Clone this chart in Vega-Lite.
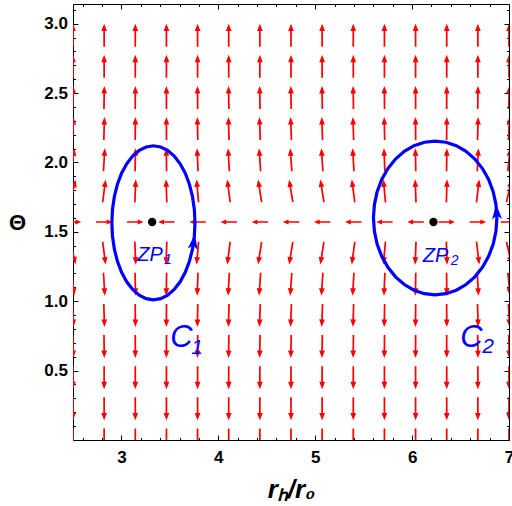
{
"$schema": "https://vega.github.io/schema/vega-lite/v6.json",
"width": 436, "height": 436,
"autosize": {"type": "none"},
"padding": {"left": 73, "top": 4, "right": 3, "bottom": 66},
"config": {"view": {"stroke": null}, "axis": {"grid": false, "labelFont": "Liberation Sans", "labelFontWeight": "bold", "labelFontSize": 17, "labelColor": "#000", "tickColor": "#000", "tickWidth": 1, "domainColor": "#000", "domainWidth": 1, "titleColor": "#000", "zindex": 1, "labelFlush": false, "labelOverlap": false}},
"datasets": {
"arrows": [
{"r":2.5,"t":0,"a":180},{"r":2.8214,"t":0,"a":180},{"r":3.1429,"t":0,"a":180},{"r":3.4643,"t":0,"a":180},{"r":3.7857,"t":0,"a":180},{"r":4.1071,"t":0,"a":180},{"r":4.4286,"t":0,"a":180},{"r":4.75,"t":0,"a":180},{"r":5.0714,"t":0,"a":180},{"r":5.3929,"t":0,"a":180},{"r":5.7143,"t":0,"a":180},{"r":6.0357,"t":0,"a":180},{"r":6.3571,"t":0,"a":180},{"r":6.6786,"t":0,"a":180},{"r":7,"t":0,"a":180},
{"r":2.5,"t":0.2244,"a":180},{"r":2.8214,"t":0.2244,"a":180},{"r":3.1429,"t":0.2244,"a":180},{"r":3.4643,"t":0.2244,"a":180},{"r":3.7857,"t":0.2244,"a":180},{"r":4.1071,"t":0.2244,"a":180},{"r":4.4286,"t":0.2244,"a":180},{"r":4.75,"t":0.2244,"a":180},{"r":5.0714,"t":0.2244,"a":180},{"r":5.3929,"t":0.2244,"a":180},{"r":5.7143,"t":0.2244,"a":180},{"r":6.0357,"t":0.2244,"a":180},{"r":6.3571,"t":0.2244,"a":180},{"r":6.6786,"t":0.2244,"a":180},{"r":7,"t":0.2244,"a":180},
{"r":2.5,"t":0.4488,"a":180},{"r":2.8214,"t":0.4488,"a":180},{"r":3.1429,"t":0.4488,"a":180},{"r":3.4643,"t":0.4488,"a":180},{"r":3.7857,"t":0.4488,"a":180},{"r":4.1071,"t":0.4488,"a":180},{"r":4.4286,"t":0.4488,"a":180},{"r":4.75,"t":0.4488,"a":180},{"r":5.0714,"t":0.4488,"a":180},{"r":5.3929,"t":0.4488,"a":180},{"r":5.7143,"t":0.4488,"a":180},{"r":6.0357,"t":0.4488,"a":180},{"r":6.3571,"t":0.4488,"a":180},{"r":6.6786,"t":0.4488,"a":180},{"r":7,"t":0.4488,"a":180},
{"r":2.5,"t":0.6732,"a":178.4},{"r":2.8214,"t":0.6732,"a":179.1},{"r":3.1429,"t":0.6732,"a":179.7},{"r":3.4643,"t":0.6732,"a":180.2},{"r":3.7857,"t":0.6732,"a":180.6},{"r":4.1071,"t":0.6732,"a":180.9},{"r":4.4286,"t":0.6732,"a":181},{"r":4.75,"t":0.6732,"a":181.1},{"r":5.0714,"t":0.6732,"a":181},{"r":5.3929,"t":0.6732,"a":180.9},{"r":5.7143,"t":0.6732,"a":180.6},{"r":6.0357,"t":0.6732,"a":180.3},{"r":6.3571,"t":0.6732,"a":179.8},{"r":6.6786,"t":0.6732,"a":179.2},{"r":7,"t":0.6732,"a":178.5},
{"r":2.5,"t":0.8976,"a":176.9},{"r":2.8214,"t":0.8976,"a":178.3},{"r":3.1429,"t":0.8976,"a":179.5},{"r":3.4643,"t":0.8976,"a":180.4},{"r":3.7857,"t":0.8976,"a":181.1},{"r":4.1071,"t":0.8976,"a":181.7},{"r":4.4286,"t":0.8976,"a":182},{"r":4.75,"t":0.8976,"a":182.1},{"r":5.0714,"t":0.8976,"a":182},{"r":5.3929,"t":0.8976,"a":181.7},{"r":5.7143,"t":0.8976,"a":181.2},{"r":6.0357,"t":0.8976,"a":180.5},{"r":6.3571,"t":0.8976,"a":179.6},{"r":6.6786,"t":0.8976,"a":178.4},{"r":7,"t":0.8976,"a":177.1},
{"r":2.5,"t":1.122,"a":174.1},{"r":2.8214,"t":1.122,"a":176.7},{"r":3.1429,"t":1.122,"a":179},{"r":3.4643,"t":1.122,"a":180.8},{"r":3.7857,"t":1.122,"a":182.2},{"r":4.1071,"t":1.122,"a":183.2},{"r":4.4286,"t":1.122,"a":183.8},{"r":4.75,"t":1.122,"a":184.1},{"r":5.0714,"t":1.122,"a":183.9},{"r":5.3929,"t":1.122,"a":183.3},{"r":5.7143,"t":1.122,"a":182.3},{"r":6.0357,"t":1.122,"a":181},{"r":6.3571,"t":1.122,"a":179.2},{"r":6.6786,"t":1.122,"a":177},{"r":7,"t":1.122,"a":174.5},
{"r":2.5,"t":1.3464,"a":166.8},{"r":2.8214,"t":1.3464,"a":172.6},{"r":3.1429,"t":1.3464,"a":177.6},{"r":3.4643,"t":1.3464,"a":181.8},{"r":3.7857,"t":1.3464,"a":185},{"r":4.1071,"t":1.3464,"a":187.3},{"r":4.4286,"t":1.3464,"a":188.7},{"r":4.75,"t":1.3464,"a":189.2},{"r":5.0714,"t":1.3464,"a":188.8},{"r":5.3929,"t":1.3464,"a":187.5},{"r":5.7143,"t":1.3464,"a":185.3},{"r":6.0357,"t":1.3464,"a":182.2},{"r":6.3571,"t":1.3464,"a":178.2},{"r":6.6786,"t":1.3464,"a":173.2},{"r":7,"t":1.3464,"a":167.5},
{"r":2.5,"t":1.7952,"a":13.2},{"r":2.8214,"t":1.7952,"a":7.4},{"r":3.1429,"t":1.7952,"a":2.4},{"r":3.4643,"t":1.7952,"a":-1.8},{"r":3.7857,"t":1.7952,"a":-5},{"r":4.1071,"t":1.7952,"a":-7.3},{"r":4.4286,"t":1.7952,"a":-8.7},{"r":4.75,"t":1.7952,"a":-9.2},{"r":5.0714,"t":1.7952,"a":-8.8},{"r":5.3929,"t":1.7952,"a":-7.5},{"r":5.7143,"t":1.7952,"a":-5.3},{"r":6.0357,"t":1.7952,"a":-2.2},{"r":6.3571,"t":1.7952,"a":1.8},{"r":6.6786,"t":1.7952,"a":6.8},{"r":7,"t":1.7952,"a":12.5},
{"r":2.5,"t":2.0196,"a":5.9},{"r":2.8214,"t":2.0196,"a":3.3},{"r":3.1429,"t":2.0196,"a":1},{"r":3.4643,"t":2.0196,"a":-0.8},{"r":3.7857,"t":2.0196,"a":-2.2},{"r":4.1071,"t":2.0196,"a":-3.2},{"r":4.4286,"t":2.0196,"a":-3.8},{"r":4.75,"t":2.0196,"a":-4.1},{"r":5.0714,"t":2.0196,"a":-3.9},{"r":5.3929,"t":2.0196,"a":-3.3},{"r":5.7143,"t":2.0196,"a":-2.3},{"r":6.0357,"t":2.0196,"a":-1},{"r":6.3571,"t":2.0196,"a":0.8},{"r":6.6786,"t":2.0196,"a":3},{"r":7,"t":2.0196,"a":5.5},
{"r":2.5,"t":2.244,"a":3.1},{"r":2.8214,"t":2.244,"a":1.7},{"r":3.1429,"t":2.244,"a":0.5},{"r":3.4643,"t":2.244,"a":-0.4},{"r":3.7857,"t":2.244,"a":-1.1},{"r":4.1071,"t":2.244,"a":-1.7},{"r":4.4286,"t":2.244,"a":-2},{"r":4.75,"t":2.244,"a":-2.1},{"r":5.0714,"t":2.244,"a":-2},{"r":5.3929,"t":2.244,"a":-1.7},{"r":5.7143,"t":2.244,"a":-1.2},{"r":6.0357,"t":2.244,"a":-0.5},{"r":6.3571,"t":2.244,"a":0.4},{"r":6.6786,"t":2.244,"a":1.6},{"r":7,"t":2.244,"a":2.9},
{"r":2.5,"t":2.4684,"a":1.6},{"r":2.8214,"t":2.4684,"a":0.9},{"r":3.1429,"t":2.4684,"a":0.3},{"r":3.4643,"t":2.4684,"a":-0.2},{"r":3.7857,"t":2.4684,"a":-0.6},{"r":4.1071,"t":2.4684,"a":-0.9},{"r":4.4286,"t":2.4684,"a":-1},{"r":4.75,"t":2.4684,"a":-1.1},{"r":5.0714,"t":2.4684,"a":-1},{"r":5.3929,"t":2.4684,"a":-0.9},{"r":5.7143,"t":2.4684,"a":-0.6},{"r":6.0357,"t":2.4684,"a":-0.3},{"r":6.3571,"t":2.4684,"a":0.2},{"r":6.6786,"t":2.4684,"a":0.8},{"r":7,"t":2.4684,"a":1.5},
{"r":2.5,"t":2.6928,"a":0},{"r":2.8214,"t":2.6928,"a":0},{"r":3.1429,"t":2.6928,"a":0},{"r":3.4643,"t":2.6928,"a":0},{"r":3.7857,"t":2.6928,"a":0},{"r":4.1071,"t":2.6928,"a":0},{"r":4.4286,"t":2.6928,"a":0},{"r":4.75,"t":2.6928,"a":0},{"r":5.0714,"t":2.6928,"a":0},{"r":5.3929,"t":2.6928,"a":0},{"r":5.7143,"t":2.6928,"a":0},{"r":6.0357,"t":2.6928,"a":0},{"r":6.3571,"t":2.6928,"a":0},{"r":6.6786,"t":2.6928,"a":0},{"r":7,"t":2.6928,"a":0},
{"r":2.5,"t":2.9172,"a":0},{"r":2.8214,"t":2.9172,"a":0},{"r":3.1429,"t":2.9172,"a":0},{"r":3.4643,"t":2.9172,"a":0},{"r":3.7857,"t":2.9172,"a":0},{"r":4.1071,"t":2.9172,"a":0},{"r":4.4286,"t":2.9172,"a":0},{"r":4.75,"t":2.9172,"a":0},{"r":5.0714,"t":2.9172,"a":0},{"r":5.3929,"t":2.9172,"a":0},{"r":5.7143,"t":2.9172,"a":0},{"r":6.0357,"t":2.9172,"a":0},{"r":6.3571,"t":2.9172,"a":0},{"r":6.6786,"t":2.9172,"a":0},{"r":7,"t":2.9172,"a":0}
],
"hrow": [
{"r":2.5,"t":1.5708,"a":90},{"r":2.8214,"t":1.5708,"a":90},{"r":3.1429,"t":1.5708,"a":90},{"r":3.4643,"t":1.5708,"a":270},{"r":3.7857,"t":1.5708,"a":270},{"r":4.1071,"t":1.5708,"a":270},{"r":4.4286,"t":1.5708,"a":270},{"r":4.75,"t":1.5708,"a":270},{"r":5.0714,"t":1.5708,"a":270},{"r":5.3929,"t":1.5708,"a":270},{"r":5.7143,"t":1.5708,"a":270},{"r":6.0357,"t":1.5708,"a":270},{"r":6.3571,"t":1.5708,"a":90},{"r":6.6786,"t":1.5708,"a":90},{"r":7,"t":1.5708,"a":90}
],
"ellipses": [
{"c":"C1","i":0,"r":3.759,"t":1.565},{"c":"C1","i":1,"r":3.7525,"t":1.6613},{"c":"C1","i":2,"r":3.7331,"t":1.7548},{"c":"C1","i":3,"r":3.7015,"t":1.8425},{"c":"C1","i":4,"r":3.6586,"t":1.9218},{"c":"C1","i":5,"r":3.6058,"t":1.9901},{"c":"C1","i":6,"r":3.5445,"t":2.0456},{"c":"C1","i":7,"r":3.4767,"t":2.0865},{"c":"C1","i":8,"r":3.4045,"t":2.1116},{"c":"C1","i":9,"r":3.33,"t":2.12},{"c":"C1","i":10,"r":3.2555,"t":2.1116},{"c":"C1","i":11,"r":3.1833,"t":2.0865},{"c":"C1","i":12,"r":3.1155,"t":2.0456},{"c":"C1","i":13,"r":3.0542,"t":1.9901},{"c":"C1","i":14,"r":3.0014,"t":1.9218},{"c":"C1","i":15,"r":2.9585,"t":1.8425},{"c":"C1","i":16,"r":2.9269,"t":1.7548},{"c":"C1","i":17,"r":2.9075,"t":1.6613},{"c":"C1","i":18,"r":2.901,"t":1.565},{"c":"C1","i":19,"r":2.9075,"t":1.4687},{"c":"C1","i":20,"r":2.9269,"t":1.3752},{"c":"C1","i":21,"r":2.9585,"t":1.2875},{"c":"C1","i":22,"r":3.0014,"t":1.2082},{"c":"C1","i":23,"r":3.0542,"t":1.1399},{"c":"C1","i":24,"r":3.1155,"t":1.0844},{"c":"C1","i":25,"r":3.1833,"t":1.0435},{"c":"C1","i":26,"r":3.2555,"t":1.0184},{"c":"C1","i":27,"r":3.33,"t":1.01},{"c":"C1","i":28,"r":3.4045,"t":1.0184},{"c":"C1","i":29,"r":3.4767,"t":1.0435},{"c":"C1","i":30,"r":3.5445,"t":1.0844},{"c":"C1","i":31,"r":3.6058,"t":1.1399},{"c":"C1","i":32,"r":3.6586,"t":1.2082},{"c":"C1","i":33,"r":3.7015,"t":1.2875},{"c":"C1","i":34,"r":3.7331,"t":1.3752},{"c":"C1","i":35,"r":3.7525,"t":1.4687},{"c":"C1","i":36,"r":3.759,"t":1.565},
{"c":"C2","i":0,"r":6.875,"t":1.6},{"c":"C2","i":1,"r":6.8653,"t":1.6962},{"c":"C2","i":2,"r":6.8366,"t":1.7895},{"c":"C2","i":3,"r":6.7896,"t":1.877},{"c":"C2","i":4,"r":6.7259,"t":1.9561},{"c":"C2","i":5,"r":6.6475,"t":2.0244},{"c":"C2","i":6,"r":6.5565,"t":2.0798},{"c":"C2","i":7,"r":6.4559,"t":2.1206},{"c":"C2","i":8,"r":6.3486,"t":2.1456},{"c":"C2","i":9,"r":6.238,"t":2.154},{"c":"C2","i":10,"r":6.1274,"t":2.1456},{"c":"C2","i":11,"r":6.0201,"t":2.1206},{"c":"C2","i":12,"r":5.9195,"t":2.0798},{"c":"C2","i":13,"r":5.8285,"t":2.0244},{"c":"C2","i":14,"r":5.7501,"t":1.9561},{"c":"C2","i":15,"r":5.6864,"t":1.877},{"c":"C2","i":16,"r":5.6394,"t":1.7895},{"c":"C2","i":17,"r":5.6107,"t":1.6962},{"c":"C2","i":18,"r":5.601,"t":1.6},{"c":"C2","i":19,"r":5.6107,"t":1.5038},{"c":"C2","i":20,"r":5.6394,"t":1.4105},{"c":"C2","i":21,"r":5.6864,"t":1.323},{"c":"C2","i":22,"r":5.7501,"t":1.2439},{"c":"C2","i":23,"r":5.8285,"t":1.1756},{"c":"C2","i":24,"r":5.9195,"t":1.1202},{"c":"C2","i":25,"r":6.0201,"t":1.0794},{"c":"C2","i":26,"r":6.1274,"t":1.0544},{"c":"C2","i":27,"r":6.238,"t":1.046},{"c":"C2","i":28,"r":6.3486,"t":1.0544},{"c":"C2","i":29,"r":6.4559,"t":1.0794},{"c":"C2","i":30,"r":6.5565,"t":1.1202},{"c":"C2","i":31,"r":6.6475,"t":1.1756},{"c":"C2","i":32,"r":6.7259,"t":1.2439},{"c":"C2","i":33,"r":6.7896,"t":1.323},{"c":"C2","i":34,"r":6.8366,"t":1.4105},{"c":"C2","i":35,"r":6.8653,"t":1.5038},{"c":"C2","i":36,"r":6.875,"t":1.6}
],
"heads": [{"c":"C1","r":3.745,"t":1.423,"a":8},{"c":"C2","r":6.873,"t":1.639,"a":-3}],
"zeros": [{"name":"ZP1","r":3.317,"t":1.5708},{"name":"ZP2","r":6.22,"t":1.5708}],
"zpText": [{"s":"ZP","r":3.163,"t":1.288},{"s":"ZP","r":6.11,"t":1.281}],
"zpSub": [{"s":"1","r":3.44,"t":1.268},{"s":"2","r":6.40,"t":1.262}],
"cText": [{"s":"C","r":3.503,"t":0.669},{"s":"C","r":6.496,"t":0.669}],
"cSub": [{"s":"1","r":3.72,"t":0.621},{"s":"2","r":6.723,"t":0.625}]
},
"resolve": {"axis": {"x": "independent", "y": "independent"}},
"layer": [
{"data": {"name": "arrows"},
 "mark": {"type": "point", "shape": "M-0.075,1L0.075,1L0.075,-0.35L0.25,-0.35L0,-1L-0.25,-0.35L-0.075,-0.35Z", "filled": true, "color": "#ff0000", "opacity": 1, "size": 529, "strokeWidth": 0, "clip": true},
 "encoding": {
  "x": {"field": "r", "type": "quantitative", "scale": {"domain": [2.5, 7], "nice": false, "zero": false},
        "axis": {"orient": "bottom", "values": [3,4,5,6,7], "format": "d", "tickSize": -5, "labelPadding": 14, "domain": true, "title": "rₕ/r₀", "titleFont": "Liberation Sans", "titleFontSize": 26, "titleFontStyle": "italic", "titleFontWeight": "bold", "titleBaseline": "alphabetic", "titleY": 57}},
  "y": {"field": "t", "type": "quantitative", "scale": {"domain": [0, 3.14159], "nice": false, "zero": false},
        "axis": {"orient": "left", "values": [0.5,1,1.5,2,2.5,3], "format": ".1f", "tickSize": -5, "labelPadding": 10.5, "domain": true, "title": "Θ", "titleAngle": 0, "titleX": -56, "titleY": 218, "titleAlign": "center", "titleBaseline": "middle", "titleFont": "Liberation Sans", "titleFontSize": 22, "titleFontWeight": "bold"}},
  "angle": {"field": "a", "type": "quantitative", "scale": null}
 }},
{"data": {"name": "hrow"},
 "mark": {"type": "point", "shape": "M-0.09,1L0.09,1L0.09,-0.3L0.3,-0.3L0,-1L-0.3,-0.3L-0.09,-0.3Z", "filled": true, "color": "#ff0000", "opacity": 1, "size": 270, "strokeWidth": 0, "clip": true},
 "encoding": {
  "x": {"field": "r", "type": "quantitative", "scale": {"domain": [2.5, 7], "nice": false, "zero": false},
        "axis": {"orient": "bottom", "values": [2.6,2.8,3.2,3.4,3.6,3.8,4.2,4.4,4.6,4.8,5.2,5.4,5.6,5.8,6.2,6.4,6.6,6.8], "tickSize": -2.5, "labels": false, "domain": false, "title": null}},
  "y": {"field": "t", "type": "quantitative", "scale": {"domain": [0, 3.14159], "nice": false, "zero": false},
        "axis": {"orient": "left", "values": [0.1,0.2,0.3,0.4,0.6,0.7,0.8,0.9,1.1,1.2,1.3,1.4,1.6,1.7,1.8,1.9,2.1,2.2,2.3,2.4,2.6,2.7,2.8,2.9,3.1], "tickSize": -2.5, "labels": false, "domain": false, "title": null}},
  "angle": {"field": "a", "type": "quantitative", "scale": null}
 }},
{"data": {"name": "ellipses"},
 "mark": {"type": "line", "color": "#0000ff", "strokeWidth": 3.2, "clip": true},
 "encoding": {
  "x": {"field": "r", "type": "quantitative", "scale": {"domain": [2.5, 7], "nice": false, "zero": false},
        "axis": {"orient": "top", "values": [3,4,5,6,7], "tickSize": -5, "labels": false, "domain": true, "title": null}},
  "y": {"field": "t", "type": "quantitative", "scale": {"domain": [0, 3.14159], "nice": false, "zero": false},
        "axis": {"orient": "right", "values": [0.5,1,1.5,2,2.5,3], "tickSize": -5, "labels": false, "domain": true, "title": null}},
  "detail": {"field": "c"},
  "order": {"field": "i", "type": "quantitative"}
 }},
{"data": {"name": "heads"},
 "mark": {"type": "point", "shape": "M0,-1L0.6,0.8L0,0.35L-0.6,0.8Z", "filled": true, "color": "#0000ff", "opacity": 1, "size": 280, "strokeWidth": 0},
 "encoding": {
  "x": {"field": "r", "type": "quantitative", "scale": {"domain": [2.5, 7], "nice": false, "zero": false},
        "axis": {"orient": "top", "values": [2.6,2.8,3.2,3.4,3.6,3.8,4.2,4.4,4.6,4.8,5.2,5.4,5.6,5.8,6.2,6.4,6.6,6.8], "tickSize": -2.5, "labels": false, "domain": false, "title": null}},
  "y": {"field": "t", "type": "quantitative", "scale": {"domain": [0, 3.14159], "nice": false, "zero": false},
        "axis": {"orient": "right", "values": [0.1,0.2,0.3,0.4,0.6,0.7,0.8,0.9,1.1,1.2,1.3,1.4,1.6,1.7,1.8,1.9,2.1,2.2,2.3,2.4,2.6,2.7,2.8,2.9,3.1], "tickSize": -2.5, "labels": false, "domain": false, "title": null}},
  "angle": {"field": "a", "type": "quantitative", "scale": null}
 }},
{"data": {"name": "zeros"},
 "mark": {"type": "point", "shape": "circle", "filled": true, "color": "#000", "opacity": 1, "size": 70},
 "encoding": {
  "x": {"field": "r", "type": "quantitative", "axis": null},
  "y": {"field": "t", "type": "quantitative", "axis": null}
 }},
{"data": {"name": "zpText"},
 "mark": {"type": "text", "align": "left", "baseline": "alphabetic", "font": "Liberation Sans", "fontStyle": "italic", "fontSize": 20, "color": "#0000ff"},
 "encoding": {"x": {"field": "r", "type": "quantitative", "axis": null}, "y": {"field": "t", "type": "quantitative", "axis": null}, "text": {"field": "s"}}},
{"data": {"name": "zpSub"},
 "mark": {"type": "text", "align": "left", "baseline": "alphabetic", "font": "Liberation Sans", "fontStyle": "italic", "fontSize": 14, "color": "#0000ff"},
 "encoding": {"x": {"field": "r", "type": "quantitative", "axis": null}, "y": {"field": "t", "type": "quantitative", "axis": null}, "text": {"field": "s"}}},
{"data": {"name": "cText"},
 "mark": {"type": "text", "align": "left", "baseline": "alphabetic", "font": "Liberation Sans", "fontStyle": "italic", "fontSize": 31, "color": "#0000ff"},
 "encoding": {"x": {"field": "r", "type": "quantitative", "axis": null}, "y": {"field": "t", "type": "quantitative", "axis": null}, "text": {"field": "s"}}},
{"data": {"name": "cSub"},
 "mark": {"type": "text", "align": "left", "baseline": "alphabetic", "font": "Liberation Sans", "fontStyle": "italic", "fontSize": 21, "color": "#0000ff"},
 "encoding": {"x": {"field": "r", "type": "quantitative", "axis": null}, "y": {"field": "t", "type": "quantitative", "axis": null}, "text": {"field": "s"}}}
]
}
